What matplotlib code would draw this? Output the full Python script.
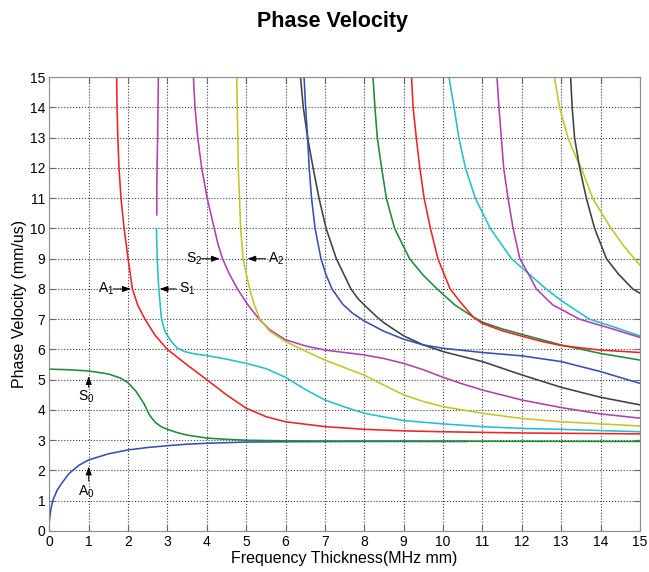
import matplotlib
matplotlib.use("Agg")
import matplotlib.pyplot as plt

plt.rcParams['font.family'] = ['Liberation Sans', 'DejaVu Sans']

# dispersion curves: (frequency thickness, phase velocity)
a0_x = [0, 0.02, 0.05, 0.1, 0.2, 0.3, 0.5, 0.75, 1.0, 1.5, 2.0, 2.5, 3.0, 3.5, 4.0, 5.0, 6.0, 8.0, 10.6]
a0_y = [0.3, 0.55, 0.8, 1.05, 1.35, 1.55, 1.9, 2.17, 2.35, 2.55, 2.68, 2.76, 2.82, 2.87, 2.9, 2.94, 2.95, 2.96, 2.96]

s0_x = [0, 0.5, 1.0, 1.5, 1.8, 2.0, 2.2, 2.4, 2.55, 2.7, 2.85, 3.0, 3.25, 3.5, 4.0, 4.5, 5.0, 6.0, 7.0, 15]
s0_y = [5.35, 5.33, 5.29, 5.19, 5.06, 4.9, 4.62, 4.22, 3.82, 3.58, 3.44, 3.36, 3.25, 3.17, 3.07, 3.03, 3.0, 2.98, 2.97, 2.96]

a1_x = [1.71, 1.72, 1.74, 1.77, 1.82, 1.9, 1.95, 2.0, 2.11, 2.25, 2.43, 2.68, 3.0, 3.5, 4.0, 4.5, 5.0, 5.5, 6.0, 7.0, 8.0, 9.0, 10.0, 12.0, 15.0]
a1_y = [15, 14, 13, 12, 11, 10, 9.5, 9, 8, 7.45, 7.0, 6.48, 6.0, 5.49, 5.0, 4.5, 4.06, 3.78, 3.61, 3.45, 3.36, 3.31, 3.28, 3.24, 3.21]

s1_x = [2.72, 2.74, 2.78, 2.85, 2.94, 3.1, 3.25, 3.44, 3.7, 4.0, 4.5, 5.0, 5.5, 6.0, 6.5, 7.0, 7.5, 8.0, 9.0, 10.0, 11.0, 12.0, 13.0, 14.0, 15.0]
s1_y = [10.0, 9.0, 8.0, 7.0, 6.59, 6.26, 6.05, 5.93, 5.85, 5.8, 5.68, 5.54, 5.37, 5.08, 4.68, 4.33, 4.1, 3.89, 3.65, 3.54, 3.45, 3.39, 3.36, 3.32, 3.28]

s1_top_x = [2.77, 2.75, 2.73, 2.73]
s1_top_y = [15, 13, 11.5, 10.45]

s2_x = [3.66, 3.70, 3.77, 3.87, 4.01, 4.19, 4.28, 4.4, 4.57, 4.78, 5.03, 5.33, 5.6, 6.0, 6.5, 7.0, 7.5, 8.0, 8.5, 9.0, 9.5, 10.0, 10.5, 11.0, 12.0, 13.0, 14.0, 15.0]
s2_y = [15, 14, 13, 12, 11, 10, 9.5, 9, 8.5, 8.0, 7.5, 7.0, 6.65, 6.32, 6.12, 5.98, 5.9, 5.82, 5.7, 5.54, 5.33, 5.08, 4.86, 4.66, 4.33, 4.08, 3.87, 3.73]

a2_x = [4.76, 4.78, 4.80, 4.83, 4.86, 4.92, 5.0, 5.09, 5.2, 5.35, 5.6, 6.0, 6.5, 7.0, 7.5, 8.0, 8.5, 9.0, 9.5, 10.0, 11.0, 12.0, 13.0, 14.0, 15.0]
a2_y = [15, 13.5, 12, 11, 10, 9, 8.5, 8.0, 7.5, 7.0, 6.6, 6.26, 5.95, 5.65, 5.4, 5.15, 4.82, 4.5, 4.28, 4.11, 3.89, 3.72, 3.61, 3.54, 3.47]

a3_x = [6.47, 6.51, 6.56, 6.60, 6.66, 6.75, 6.9, 7.02, 7.18, 7.45, 7.7, 7.93, 8.0, 8.5, 9.0, 9.5, 10.0, 11.0, 12.0, 13.0, 14.0, 15.0]
a3_y = [15, 14, 13, 12, 11, 10, 9, 8.5, 8, 7.5, 7.2, 7.0, 6.94, 6.6, 6.34, 6.15, 6.04, 5.9, 5.79, 5.6, 5.27, 4.88]

s3_x = [6.38, 6.45, 6.56, 6.70, 6.85, 7.03, 7.29, 7.66, 7.84, 8.0, 8.3, 8.5, 9.0, 9.5, 10.0, 11.0, 12.0, 13.0, 14.0, 15.0]
s3_y = [15, 14, 13, 12, 11, 10, 9, 8, 7.68, 7.47, 7.1, 6.88, 6.45, 6.15, 5.93, 5.6, 5.16, 4.75, 4.42, 4.17]

s4_x = [8.22, 8.27, 8.33, 8.44, 8.56, 8.77, 9.15, 9.5, 9.85, 10.3, 10.76, 11.0, 11.5, 12.0, 13.0, 14.0, 15.0]
s4_y = [15, 14, 13, 12, 11, 10, 9, 8.45, 8.0, 7.47, 7.08, 6.9, 6.68, 6.5, 6.15, 5.87, 5.65]

a4_x = [9.2, 9.24, 9.32, 9.41, 9.52, 9.68, 9.87, 10.18, 10.45, 10.76, 11.0, 11.5, 12.0, 12.5, 13.0, 14.0, 15.0]
a4_y = [15, 14, 13, 12, 11, 10, 9, 8, 7.55, 7.08, 6.86, 6.62, 6.44, 6.27, 6.13, 5.98, 5.9]

s5_x = [10.15, 10.28, 10.4, 10.57, 10.82, 11.2, 11.74, 12.16, 12.62, 13.0, 13.72, 14.3, 15.0]
s5_y = [15, 14, 13, 12, 11, 10, 9, 8.52, 8.0, 7.62, 7.0, 6.76, 6.45]

a5_x = [11.37, 11.42, 11.48, 11.54, 11.65, 11.78, 11.95, 12.16, 12.37, 12.79, 13.47, 14.3, 15.0]
a5_y = [15, 14, 13, 12, 11, 10, 9, 8.52, 8.0, 7.47, 7.0, 6.68, 6.4]

a6_x = [12.83, 12.96, 13.17, 13.43, 13.51, 13.8, 14.22, 14.6, 15.0]
a6_y = [15, 14, 13, 12.2, 12, 11, 10.1, 9.4, 8.79]

s6_x = [13.24, 13.28, 13.34, 13.47, 13.64, 13.85, 14.15, 14.45, 14.82, 15.0]
s6_y = [15, 14, 13, 12, 11, 10, 9, 8.5, 8.0, 7.86]

blue = '#3a4db0'
green = '#1d8a3c'
red = '#ee2424'
cyan = '#22c0c8'
magenta = '#b040b0'
yellow = '#c4c428'
black = '#404040'

curves = [
    (a0_x, a0_y, blue),
    (s0_x, s0_y, green),
    (a1_x, a1_y, red),
    (s1_x, s1_y, cyan),
    (s1_top_x, s1_top_y, magenta),
    (s2_x, s2_y, magenta),
    (a2_x, a2_y, yellow),
    (s3_x, s3_y, black),
    (a3_x, a3_y, blue),
    (s4_x, s4_y, green),
    (a4_x, a4_y, red),
    (s5_x, s5_y, cyan),
    (a5_x, a5_y, magenta),
    (a6_x, a6_y, yellow),
    (s6_x, s6_y, black),
]

fig = plt.figure(figsize=(6.49, 5.72), dpi=100)
ax = fig.add_axes([0.076, 0.0717, 0.91, 0.7933])

for xs, ys, c in curves:
    ax.plot(xs, ys, color=c, linewidth=1.15)

ax.set_xlim(0, 15)
ax.set_ylim(0, 15)
ax.set_xticks(range(16))
ax.set_yticks(range(16))
ax.grid(True, color='0.25', linestyle=':', linewidth=0.8)
ax.tick_params(direction='in', length=4, top=True, right=True, labelsize=10, pad=3, color='0.4')
for sp in ax.spines.values():
    sp.set_color('0.55')

ax.set_xlabel('Frequency Thickness(MHz mm)', fontsize=11.5, labelpad=1)
ax.set_ylabel('Phase Velocity (mm/us)', fontsize=11.5, labelpad=2)
fig.text(0.512, 0.962, 'Phase Velocity', ha='center', va='center', fontsize=15.5, fontweight='bold')

# mode labels with arrows
arrow = dict(arrowstyle='-|>,head_length=0.5,head_width=0.18', color='black', lw=0.7, shrinkA=0, shrinkB=0)
ax.annotate('', xy=(2.07, 8), xytext=(1.62, 8), arrowprops=arrow)
ax.text(1.24, 8, r'$\mathregular{A_1}$', fontsize=10, va='center', ha='left')
ax.annotate('', xy=(2.8, 8), xytext=(3.22, 8), arrowprops=arrow)
ax.text(3.3, 8, r'$\mathregular{S_1}$', fontsize=10, va='center', ha='left')
ax.annotate('', xy=(4.33, 9), xytext=(3.86, 9), arrowprops=arrow)
ax.text(3.47, 9, r'$\mathregular{S_2}$', fontsize=10, va='center', ha='left')
ax.annotate('', xy=(5.03, 9), xytext=(5.5, 9), arrowprops=arrow)
ax.text(5.55, 9, r'$\mathregular{A_2}$', fontsize=10, va='center', ha='left')
ax.annotate('', xy=(1.0, 5.12), xytext=(1.0, 4.75), arrowprops=arrow)
ax.text(0.72, 4.42, r'$\mathregular{S_0}$', fontsize=10, va='center', ha='left')
ax.annotate('', xy=(1.0, 2.13), xytext=(1.0, 1.65), arrowprops=arrow)
ax.text(0.72, 1.3, r'$\mathregular{A_0}$', fontsize=10, va='center', ha='left')

fig.savefig('out.png', dpi=100)
